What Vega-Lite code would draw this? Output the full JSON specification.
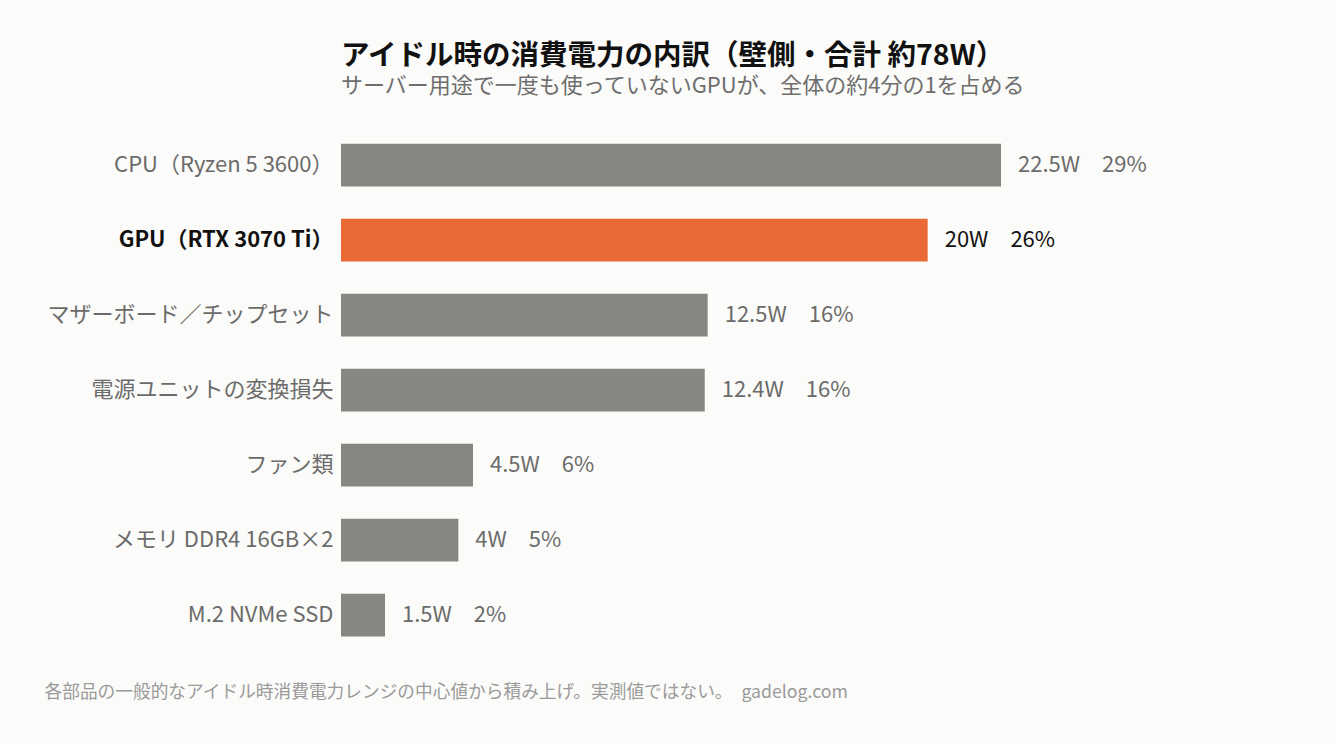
{
  "$schema": "https://vega.github.io/schema/vega-lite/v6.json",
  "autosize": "none",
  "width": 660,
  "height": 525,
  "padding": {"left": 341, "top": 127.5, "right": 335, "bottom": 91.5},
  "background": "#fbfbf9",
  "config": {
    "font": "Noto Sans CJK JP",
    "view": {"stroke": null}
  },
  "title": {
    "text": "アイドル時の消費電力の内訳（壁側・合計 約78W）",
    "subtitle": "サーバー用途で一度も使っていないGPUが、全体の約4分の1を占める",
    "anchor": "start",
    "frame": "group",
    "offset": 31,
    "fontSize": 28.5,
    "fontWeight": "bold",
    "color": "#111111",
    "subtitleFontSize": 22,
    "subtitleColor": "#6e6e6e",
    "subtitlePadding": 5
  },
  "data": {
    "values": [
      {"part": "CPU（Ryzen 5 3600）", "watts": 22.5, "label": "22.5W　29%"},
      {"part": "GPU（RTX 3070 Ti）", "watts": 20, "label": "20W　26%"},
      {"part": "マザーボード／チップセット", "watts": 12.5, "label": "12.5W　16%"},
      {"part": "電源ユニットの変換損失", "watts": 12.4, "label": "12.4W　16%"},
      {"part": "ファン類", "watts": 4.5, "label": "4.5W　6%"},
      {"part": "メモリ DDR4 16GB×2", "watts": 4, "label": "4W　5%"},
      {"part": "M.2 NVMe SSD", "watts": 1.5, "label": "1.5W　2%"}
    ]
  },
  "encoding": {
    "y": {
      "field": "part",
      "type": "nominal",
      "sort": null,
      "scale": {"paddingInner": 0.43, "paddingOuter": 0.215},
      "axis": {
        "title": null,
        "domain": false,
        "ticks": false,
        "labelPadding": 8,
        "labelFontSize": 22,
        "labelLimit": 400,
        "labelColor": {"condition": {"test": "indexof(datum.value, 'GPU') == 0", "value": "#111111"}, "value": "#6b6b6b"},
        "labelFontWeight": {"condition": {"test": "indexof(datum.value, 'GPU') == 0", "value": "bold"}, "value": "normal"}
      }
    },
    "x": {
      "field": "watts",
      "type": "quantitative",
      "scale": {"domain": [0, 22.5], "nice": false},
      "axis": {
        "title": "各部品の一般的なアイドル時消費電力レンジの中心値から積み上げ。実測値ではない。　gadelog.com",
        "titleFontSize": 17.7,
        "titleFontWeight": "normal",
        "titleColor": "#9a9a9a",
        "titleAnchor": "start",
        "titleAlign": "left",
        "titleX": -297,
        "titleY": 40,
        "titleBaseline": "middle",
        "labels": false,
        "ticks": false,
        "domain": false,
        "grid": false
      }
    }
  },
  "layer": [
    {
      "mark": {"type": "bar"},
      "encoding": {
        "color": {
          "condition": {"test": "indexof(datum.part, 'GPU') == 0", "value": "#ea6936"},
          "value": "#888680"
        }
      }
    },
    {
      "mark": {"type": "text", "align": "left", "baseline": "middle", "dx": 17, "fontSize": 22},
      "encoding": {
        "text": {"field": "label"},
        "color": {
          "condition": {"test": "indexof(datum.part, 'GPU') == 0", "value": "#111111"},
          "value": "#6b6b6b"
        },
        "fontWeight": {
          "condition": {"test": "indexof(datum.part, 'GPU') == 0", "value": "bold"},
          "value": "normal"
        }
      }
    }
  ]
}
